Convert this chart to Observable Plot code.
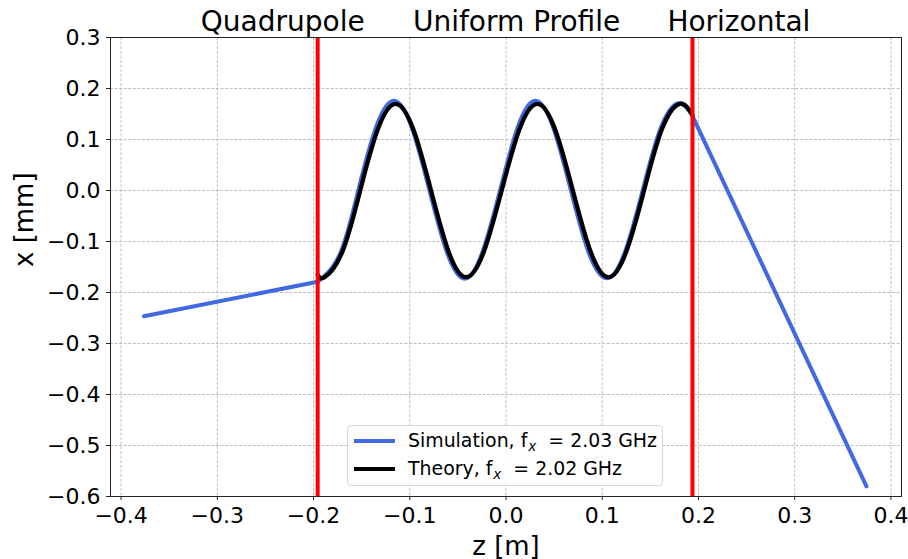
<!DOCTYPE html>
<html>
<head>
<meta charset="utf-8">
<script src="https://cdn.jsdelivr.net/npm/d3@7"></script>
<script src="https://cdn.jsdelivr.net/npm/@observablehq/plot@0.6"></script>
<style>
  html, body { margin: 0; padding: 0; background: #fff; }
  #wrap { position: relative; width: 908px; height: 559px; font-family: "DejaVu Sans", sans-serif; }
  #legend { position: absolute; left: 347px; top: 425px; width: 316px; height: 61px; box-sizing: border-box;
            border: 1px solid #d6d6d6; border-radius: 4px; background: rgba(255,255,255,0.85); }
  .sw { position: absolute; left: 6px; width: 41px; height: 4px; }
  .lt { position: absolute; left: 60px; font-size: 18.9px; line-height: 18px; color: #000; white-space: pre; }
  .lt sub { font-style: italic; font-size: 13.5px; vertical-align: -4px; line-height: 0; margin-left: 1px; }
</style>
</head>
<body>
<div id="wrap"></div>
<script>
// ---- data ----
const zTicks = [-0.4, -0.3, -0.2, -0.1, 0.0, 0.1, 0.2, 0.3, 0.4];
const xTicks = [-0.6, -0.5, -0.4, -0.3, -0.2, -0.1, 0.0, 0.1, 0.2, 0.3];

const regionLabels = ["Quadrupole", "Uniform Profile", "Horizontal"];
const regionLabelZ = [-0.232, 0.011, 0.242];
const boundaries = [-0.1957, 0.1938];

// Simulation: drift before the quadrupole
const simInZ = [-0.3763, -0.1957];
const simInX = [-0.2465, -0.179];
// Simulation: inside the uniform-profile quadrupole
const simUniZ = [-0.1957, -0.1900, -0.1720, -0.1535, -0.1350, -0.1165, -0.0980, -0.0795, -0.0612, -0.0430,
                 -0.0247, -0.0062, 0.0122, 0.0305, 0.0490, 0.0675, 0.0860, 0.1050, 0.1235, 0.1420,
                 0.1605, 0.1792, 0.1938];
const simUniX = [-0.179, -0.170, -0.122, 0.000, 0.124, 0.176, 0.124, 0.000, -0.122, -0.173,
                 -0.122, 0.000, 0.124, 0.176, 0.124, 0.000, -0.122, -0.172, -0.121, 0.000,
                 0.121, 0.171, 0.146];
// Simulation: drift after the quadrupole
const simOutZ = [0.1938, 0.3746];
const simOutX = [0.146, -0.580];

// Theory inside the quadrupole
const theoZ = [-0.1957, -0.1885, -0.1700, -0.1515, -0.1332, -0.1148, -0.0963, -0.0779, -0.0596, -0.0415,
               -0.0230, -0.0045, 0.0140, 0.0326, 0.0510, 0.0695, 0.0880, 0.1066, 0.1250, 0.1435,
               0.1620, 0.1806, 0.1938];
const theoX = [-0.165, -0.170, -0.120, 0.000, 0.120, 0.170, 0.120, 0.000, -0.120, -0.170,
               -0.120, 0.000, 0.120, 0.170, 0.120, 0.000, -0.120, -0.170, -0.120, 0.000,
               0.120, 0.170, 0.148];

const legendLabels = ["Simulation, f<sub>x</sub>&nbsp;&nbsp;= 2.03 GHz", "Theory, f<sub>x</sub>&nbsp;&nbsp;= 2.02 GHz"];
const seriesColors = ["#4169e1", "#000000"];

// ---- build tables ----
const zip = (zs, xs) => zs.map((z, i) => ({z, x: xs[i]}));
const simIn = zip(simInZ, simInX);
const simUni = zip(simUniZ, simUniX);
const simOut = zip(simOutZ, simOutX);
const theo = zip(theoZ, theoX);

const fmt = d3.format(".1f");
const gridStyle = {stroke: "#b0b0b0", strokeOpacity: 1, strokeWidth: 0.8, strokeDasharray: "3,1.6"};
const lineStyle = {x: "z", y: "x", strokeWidth: 4, strokeLinecap: "round", strokeLinejoin: "round"};

const chart = Plot.plot({
  width: 908, height: 559,
  marginLeft: 110, marginRight: 7, marginTop: 37, marginBottom: 63,
  style: {fontFamily: "DejaVu Sans, sans-serif", background: "#fff", color: "#000"},
  x: {domain: [-0.411, 0.411]},
  y: {domain: [-0.6, 0.3]},
  marks: [
    Plot.gridX(zTicks, gridStyle),
    Plot.gridY(xTicks, gridStyle),
    Plot.line(simIn, {...lineStyle, stroke: seriesColors[0]}),
    Plot.line(simUni, {...lineStyle, stroke: seriesColors[0], curve: "natural"}),
    Plot.line(simOut, {...lineStyle, stroke: seriesColors[0]}),
    Plot.line(theo, {...lineStyle, stroke: seriesColors[1], strokeWidth: 4.3, curve: "natural"}),
    Plot.ruleX(boundaries, {stroke: "#ff0000", strokeWidth: 4}),
    Plot.frame({stroke: "#222", strokeWidth: 1}),
    Plot.axisX(zTicks, {tickSize: 4, tickPadding: 7, fontSize: 22, tickFormat: fmt, label: null, stroke: "#222", fill: "#000"}),
    Plot.axisY(xTicks, {tickSize: 4, tickPadding: 6, fontSize: 22, tickFormat: fmt, label: null, stroke: "#222", fill: "#000"}),
    Plot.text(regionLabels, {x: regionLabelZ, text: d => d, frameAnchor: "top", dy: -7, lineAnchor: "bottom", fontSize: 28, fill: "#000"}),
    Plot.text(["z [m]"], {frameAnchor: "bottom", dy: 58, lineAnchor: "bottom", fontSize: 26, fill: "#000"}),
    Plot.text(["x [mm]"], {frameAnchor: "left", dx: -78, rotate: -90, lineAnchor: "bottom", fontSize: 26, fill: "#000"})
  ]
});

const wrap = document.getElementById("wrap");
wrap.appendChild(chart);

// legend overlay
const leg = document.createElement("div");
leg.id = "legend";
const rowTop = [15, 43];
legendLabels.forEach((lab, i) => {
  const sw = document.createElement("div");
  sw.className = "sw";
  sw.style.top = (rowTop[i] - 2) + "px";
  sw.style.background = seriesColors[i];
  leg.appendChild(sw);
  const t = document.createElement("div");
  t.className = "lt";
  t.style.top = (rowTop[i] - 10) + "px";
  t.innerHTML = lab;
  leg.appendChild(t);
});
wrap.appendChild(leg);
</script>
</body>
</html>
